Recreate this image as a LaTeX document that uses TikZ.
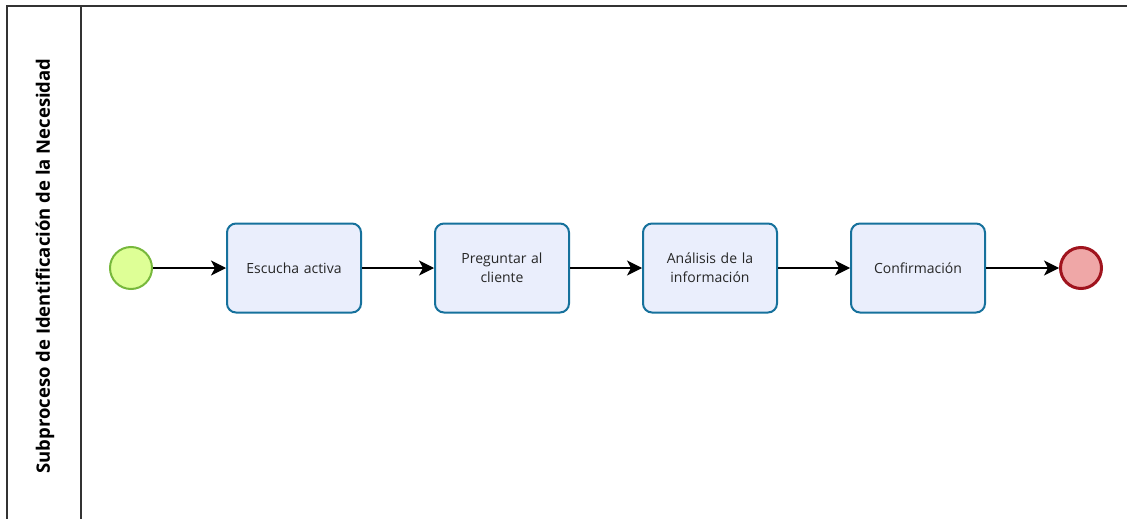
\documentclass[tikz,border=0pt]{standalone}
\usepackage{fontspec}
\setmainfont{Open Sans}
\usetikzlibrary{arrows.meta}

\definecolor{startfill}{HTML}{DEFF96}
\definecolor{startline}{HTML}{77B83C}
\definecolor{taskfill}{HTML}{EAEEFC}
\definecolor{taskline}{HTML}{16719C}
\definecolor{endfill}{HTML}{EFA7A7}
\definecolor{endline}{HTML}{A0141E}
\definecolor{poolline}{HTML}{333333}

\begin{document}
\begin{tikzpicture}[x=1pt, y=-1pt,
  task/.style={draw=taskline, fill=taskfill, line width=2pt, rounded corners=9pt,
    minimum width=134pt, minimum height=89pt, align=center, text width=120pt,
    font=\fontsize{14}{19}\selectfont, text=black!85},
  flow/.style={-{Stealth[length=15pt, width=15pt, inset=4pt]}, line width=1.3pt}]
% Set the page size
\useasboundingbox (0,0) rectangle (1127,519);

% Draw the pool and the lane title
\draw[poolline, line width=1.8pt] (1135,6) -- (7,6) -- (7,525);
\draw[poolline, line width=1.8pt] (81,6) -- (81,525);
\node[rotate=90, font=\fontsize{18.5}{22}\selectfont\bfseries] (lane) at (45,266) {Subproceso de Identificación de la Necesidad};

% Draw the events and the tasks
\node[circle, draw=startline, fill=startfill, line width=2pt, minimum size=42pt] (inicio) at (131,268) {};
\node[task] (escucha) at (294,268) {Escucha activa};
\node[task] (preguntar) at (502,268) {Preguntar al\\cliente};
\node[task] (analisis) at (710,268) {Análisis de la\\información};
\node[task] (confirmacion) at (918,268) {Confirmación};
\node[circle, draw=endline, fill=endfill, line width=3pt, minimum size=41pt] (fin) at (1081,268) {};

% Draw the sequence flows
\draw[flow] (inicio) -- (escucha);
\draw[flow] (escucha) -- (preguntar);
\draw[flow] (preguntar) -- (analisis);
\draw[flow] (analisis) -- (confirmacion);
\draw[flow] (confirmacion) -- (fin);
\end{tikzpicture}
\end{document}
